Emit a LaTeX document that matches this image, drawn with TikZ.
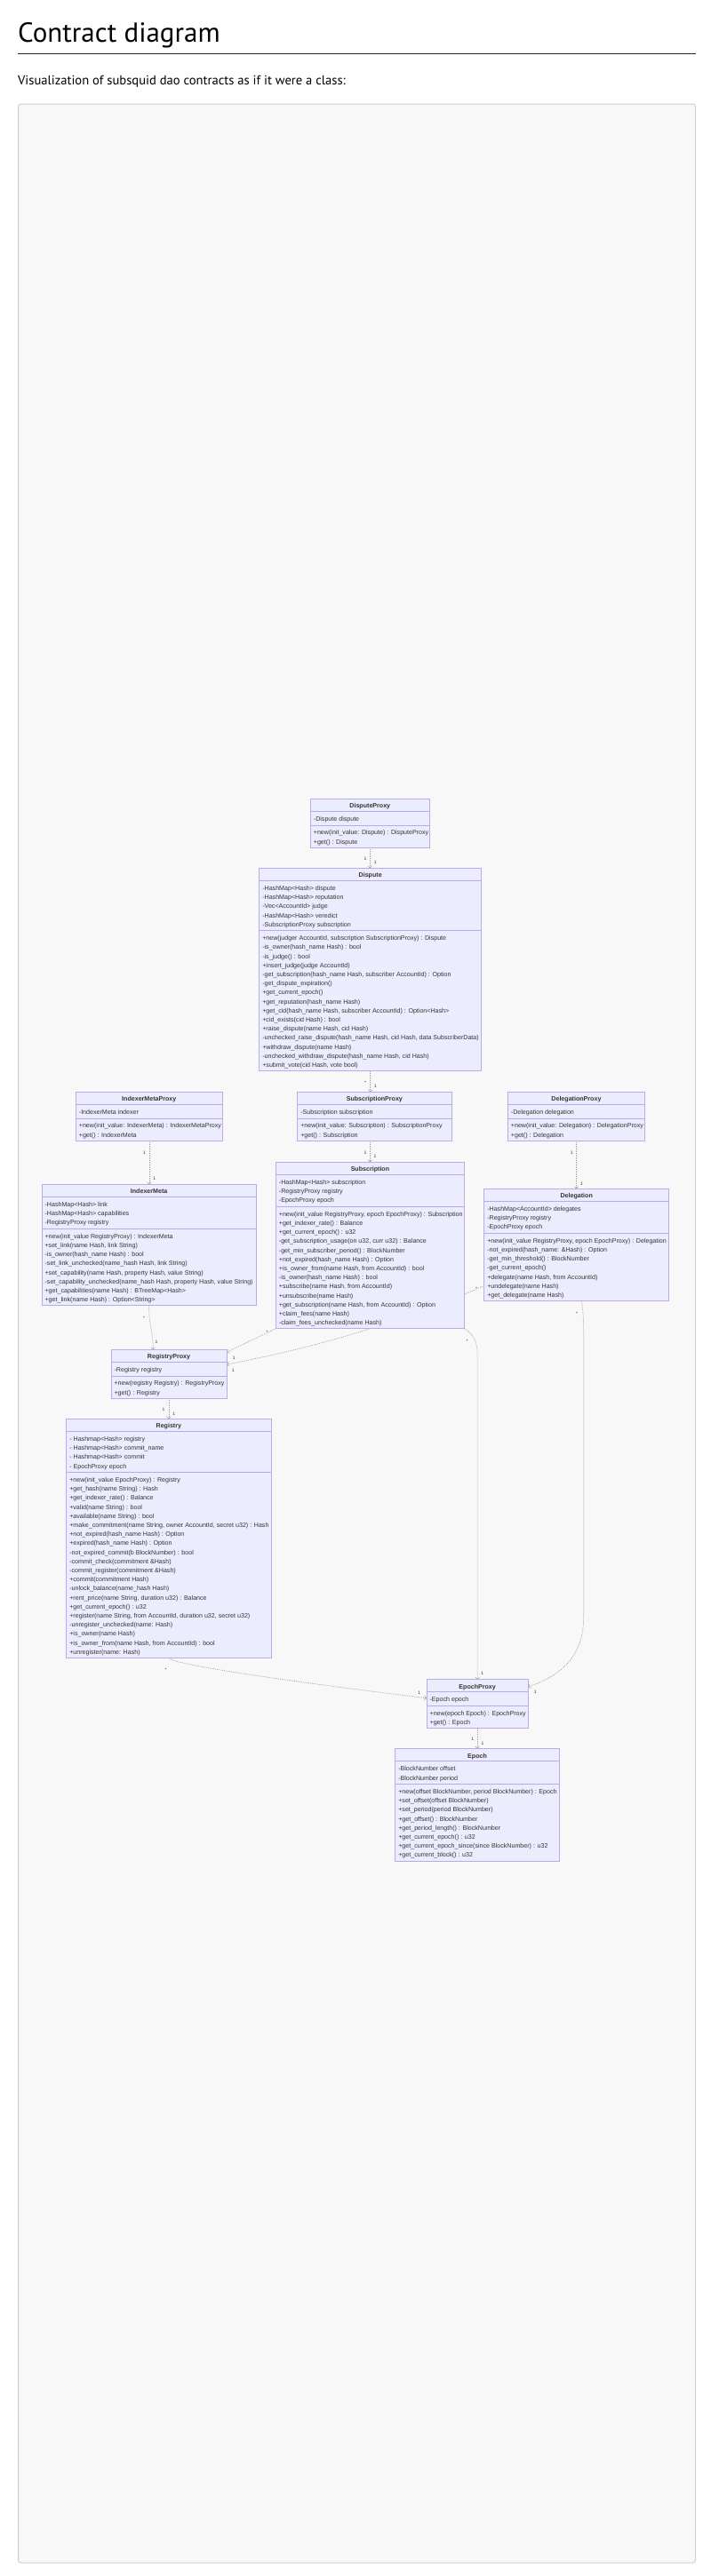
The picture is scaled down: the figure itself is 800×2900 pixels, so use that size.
\documentclass[tikz,border=0pt]{standalone}
\usepackage{fontspec}
\setmainfont{Liberation Sans}
\newfontfamily\titlefont{PT Sans}
\usetikzlibrary{arrows.meta,calc}
\pgfdeclarelayer{bg}\pgfdeclarelayer{edges}\pgfdeclarelayer{boxes}
\pgfsetlayers{bg,edges,boxes,main}
\definecolor{boxfill}{HTML}{ECECFF}
\definecolor{boxline}{HTML}{BBA9EC}
\definecolor{edgecol}{HTML}{9C9C9C}
\definecolor{txt}{HTML}{333333}
\definecolor{panel}{HTML}{F8F8F8}
\definecolor{panelline}{HTML}{CFCFCF}
\tikzset{
 classrect/.style={draw=boxline, fill=boxfill, line width=0.8pt, inner sep=0pt, outer sep=0pt, anchor=north west},
 member/.style={anchor=base west, inner sep=0pt, font=\fontsize{7.1}{8}\selectfont, text=txt},
 classtitle/.style={anchor=base, inner sep=0pt, font=\fontsize{7.1}{8}\selectfont\bfseries, text=txt},
 divider/.style={draw=boxline, line width=0.8pt},
 dep/.style={draw=edgecol, line width=0.6pt, dash pattern=on 1pt off 1pt, -{Straight Barb[length=2.2pt,width=4.6pt,line width=0.5pt]}},
 card/.style={inner sep=0pt, font=\fontsize{5}{5}\selectfont, text=txt},
}
% #1 name, #2 x, #3 y, #4 width, #5 title, #6 attributes, #7 methods
\newcommand\classbox[7]{%
 \gdef\cbnA{0}\gdef\cbnM{0}%
 \node[classtitle] (#1-t) at (#2+#4/2, #3+10.4) {#5};
 \foreach \t [count=\i] in {#6} {\node[member] (#1-a\i) at (#2+3.4, #3+25.2+\i*10.2-10.2) {\t}; \xdef\cbnA{\i}}%
 \pgfmathsetmacro\cbdA{14+\cbnA*10.2+5.4}%
 \foreach \t [count=\i] in {#7} {\node[member] (#1-m\i) at (#2+3.4, #3+\cbdA+10.9+\i*10.2-10.2) {\t}; \xdef\cbnM{\i}}%
 \pgfmathsetmacro\cbH{\cbdA+\cbnM*10.2+4.8}%
 \begin{pgfonlayer}{boxes}
  \node[classrect, minimum width=#4pt, minimum height=\cbH pt] (#1) at (#2,#3) {};
  \draw[divider] ($(#1.north west)+(0,14)$) -- ($(#1.north east)+(0,14)$);
  \draw[divider] ($(#1.north west)+(0,\cbdA)$) -- ($(#1.north east)+(0,\cbdA)$);
 \end{pgfonlayer}
}
\newcommand\cardlabel[3]{\node[card] (#1) at (#2) {#3};}

\begin{document}
\begin{tikzpicture}[x=1pt,y=-1pt]
\useasboundingbox (0,0) rectangle (800,2900);
\begin{pgfonlayer}{bg}
 \fill[white] (0,0) rectangle (800,2900);
 \draw[panelline, fill=panel, line width=1pt, rounded corners=3pt] (20.5,117) rectangle (782.5,2885);
\end{pgfonlayer}
\node[anchor=base west, inner sep=0pt, font=\titlefont\fontsize{31}{31}\selectfont, text=black] (title) at (20,47) {Contract diagram};
\draw[black!85, line width=1pt] (20,60) -- (783,60);
\node[anchor=base west, inner sep=0pt, font=\titlefont\fontsize{14.6}{14.6}\selectfont, text=black] (subtitle) at (20,95) {Visualization of subsquid dao contracts as if it were a class:};

\classbox{disputeproxy}{349.3}{899.3}{134}{DisputeProxy}{-Dispute dispute}{+new(init\_value: Dispute) : DisputeProxy, +get() : Dispute}

\classbox{dispute}{291.7}{977.3}{250}{Dispute}{-HashMap<Hash> dispute, -HashMap<Hash> reputation, -Vec<AccountId> judge, -HashMap<Hash> veredict, -SubscriptionProxy subscription}{
{+new(judger AccountId, subscription SubscriptionProxy) : Dispute},
-is\_owner(hash\_name Hash) : bool,
-is\_judge() : bool,
+insert\_judge(judge AccountId),
{-get\_subscription(hash\_name Hash, subscriber AccountId) : Option},
-get\_dispute\_expiration(),
+get\_current\_epoch(),
+get\_reputation(hash\_name Hash),
{+get\_cid(hash\_name Hash, subscriber AccountId) : Option<Hash>},
+cid\_exists(cid Hash) : bool,
{+raise\_dispute(name Hash, cid Hash)},
{-unchecked\_raise\_dispute(hash\_name Hash, cid Hash, data SubscriberData)},
+withdraw\_dispute(name Hash),
{-unchecked\_withdraw\_dispute(hash\_name Hash, cid Hash)},
{+submit\_vote(cid Hash, vote bool)}}

\classbox{indexermetaproxy}{85.3}{1229.3}{165}{IndexerMetaProxy}{-IndexerMeta indexer}{+new(init\_value: IndexerMeta) : IndexerMetaProxy, +get() : IndexerMeta}

\classbox{subscriptionproxy}{334.7}{1229.3}{173.3}{SubscriptionProxy}{-Subscription subscription}{+new(init\_value: Subscription) : SubscriptionProxy, +get() : Subscription}

\classbox{delegationproxy}{571.3}{1229.3}{154.3}{DelegationProxy}{-Delegation delegation}{+new(init\_value: Delegation) : DelegationProxy, +get() : Delegation}

\classbox{indexermeta}{47}{1333.3}{241.3}{IndexerMeta}{-HashMap<Hash> link, -HashMap<Hash> capabilities, -RegistryProxy registry}{
+new(init\_value RegistryProxy) : IndexerMeta,
{+set\_link(name Hash, link String)},
-is\_owner(hash\_name Hash) : bool,
{-set\_link\_unchecked(name\_hash Hash, link String)},
{+set\_capability(name Hash, property Hash, value String)},
{-set\_capability\_unchecked(name\_hash Hash, property Hash, value String)},
+get\_capabilities(name Hash) : BTreeMap<Hash>,
+get\_link(name Hash) : Option<String>}

\classbox{subscription}{310.3}{1308.3}{212.3}{Subscription}{-HashMap<Hash> subscription, -RegistryProxy registry, -EpochProxy epoch}{
{+new(init\_value RegistryProxy, epoch EpochProxy) : Subscription},
+get\_indexer\_rate() : Balance,
+get\_current\_epoch() : u32,
{-get\_subscription\_usage(on u32, curr u32) : Balance},
-get\_min\_subscriber\_period() : BlockNumber,
+not\_expired(hash\_name Hash) : Option,
{+is\_owner\_from(name Hash, from AccountId) : bool},
-is\_owner(hash\_name Hash) : bool,
{+subscribe(name Hash, from AccountId)},
+unsubscribe(name Hash),
{+get\_subscription(name Hash, from AccountId) : Option},
+claim\_fees(name Hash),
-claim\_fees\_unchecked(name Hash)}

\classbox{delegation}{544.7}{1338.3}{208}{Delegation}{-HashMap<AccountId> delegates, -RegistryProxy registry, -EpochProxy epoch}{
{+new(init\_value RegistryProxy, epoch EpochProxy) : Delegation},
-not\_expired(hash\_name: \&Hash) : Option,
-get\_min\_threshold() : BlockNumber,
-get\_current\_epoch(),
{+delegate(name Hash, from AccountId)},
+undelegate(name Hash),
+get\_delegate(name Hash)}

\classbox{registryproxy}{125}{1519.3}{130}{RegistryProxy}{-Registry registry}{+new(registry Registry) : RegistryProxy, +get() : Registry}

\classbox{registry}{74.7}{1597.3}{230.3}{Registry}{- Hashmap<Hash> registry, - Hashmap<Hash> commit\_name, - Hashmap<Hash> commit, - EpochProxy epoch}{
+new(init\_value EpochProxy) : Registry,
+get\_hash(name String) : Hash,
+get\_indexer\_rate() : Balance,
+valid(name String) : bool,
+available(name String) : bool,
{+make\_commitment(name String, owner AccountId, secret u32) : Hash},
+not\_expired(hash\_name Hash) : Option,
+expired(hash\_name Hash) : Option,
-not\_expired\_commit(b BlockNumber) : bool,
-commit\_check(commitment \&Hash),
-commit\_register(commitment \&Hash),
+commit(commitment Hash),
-unlock\_balance(name\_hash Hash),
{+rent\_price(name String, duration u32) : Balance},
+get\_current\_epoch() : u32,
{+register(name String, from AccountId, duration u32, secret u32)},
-unregister\_unchecked(name: Hash),
+is\_owner(name Hash),
{+is\_owner\_from(name Hash, from AccountId) : bool},
+unregister(name: Hash)}

\classbox{epochproxy}{480}{1890.7}{114.3}{EpochProxy}{-Epoch epoch}{+new(epoch Epoch) : EpochProxy, +get() : Epoch}

\classbox{epoch}{444.7}{1968.7}{184.7}{Epoch}{-BlockNumber offset, -BlockNumber period}{
{+new(offset BlockNumber, period BlockNumber) : Epoch},
+set\_offset(offset BlockNumber),
+set\_period(period BlockNumber),
+get\_offset() : BlockNumber,
+get\_period\_length() : BlockNumber,
+get\_current\_epoch() : u32,
+get\_current\_epoch\_since(since BlockNumber) : u32,
+get\_current\_block() : u32}

% connector end points
\coordinate (rp-top) at ($(registryproxy.north west)!0.364!(registryproxy.north east)$);
\coordinate (rp-e1) at ($(registryproxy.north east)+(0,3)$);
\coordinate (rp-e2) at ($(registryproxy.north east)+(0,16.7)$);
\coordinate (dl-w) at ($(delegation.south west)+(0,-17)$);
\coordinate (dl-s) at ($(delegation.south)+(5.6,0)$);
\coordinate (ep-w) at ($(epochproxy.north west)+(0,21)$);
\coordinate (ep-e) at ($(epochproxy.north east)+(0,8.3)$);
\coordinate (k1) at (epochproxy.north |- 0,1525);
\coordinate (l1) at ($(dl-s |- 0,1500)+(2.4,0)$);
\coordinate (l2) at ($(dl-s |- 0,1820)+(2.4,0)$);

\begin{pgfonlayer}{edges}
\draw[dep] (disputeproxy.south) -- (disputeproxy.south |- dispute.north);
\draw[dep] (dispute.south) -- (dispute.south |- subscriptionproxy.north);
\draw[dep] (subscription.north |- subscriptionproxy.south) -- (subscription.north);
\draw[dep] (indexermetaproxy.south) -- (indexermetaproxy.south |- indexermeta.north);
\draw[dep] (delegationproxy.south) -- (delegationproxy.south |- delegation.north);
\draw[dep] (indexermeta.south) .. controls ($(indexermeta.south)+(0,25)$) and ($(rp-top)+(0,-22)$) .. (rp-top);
\draw[dep] (subscription.south west) -- (rp-e1);
\draw[dep] (dl-w) .. controls (440,1493.7) and (340,1520) .. (rp-e2);
\draw[dep] (registryproxy.south) -- (registryproxy.south |- registry.north);
\draw[dep] (registry.south) .. controls (195,1876) and (400,1902) .. (ep-w);
\draw[dep] (subscription.south east) .. controls ($(subscription.south east)+(10,6)$) and ($(k1)+(0,-15)$) .. (k1) -- (epochproxy.north);
\draw[dep] (dl-s) .. controls ($(dl-s)+(2.2,13)$) and ($(l1)+(0,-10)$) .. (l1) -- (l2) .. controls ($(l2)+(0,50)$) and (625,1888) .. (ep-e);
\draw[dep] (epochproxy.south) -- (epochproxy.south |- epoch.north);
\end{pgfonlayer}

% cardinality labels
\cardlabel{ca1}{411,966.7}{1}
\cardlabel{ca2}{422.3,971}{1}
\cardlabel{cb1}{411,1218.7}{*}
\cardlabel{cb2}{422.3,1223}{1}
\cardlabel{cc1}{411,1297.7}{1}
\cardlabel{cc2}{422,1301.7}{1}
\cardlabel{cd1}{162.3,1297.3}{1}
\cardlabel{cd2}{173.7,1327}{1}
\cardlabel{ce1}{643.3,1297.7}{1}
\cardlabel{ce2}{654.3,1332.7}{1}
\cardlabel{cf1}{162,1483.3}{*}
\cardlabel{cf2}{176,1511}{1}
\cardlabel{cg1}{300.7,1500}{*}
\cardlabel{cg2}{263.3,1528.3}{1}
\cardlabel{ch1}{536,1450.3}{*}
\cardlabel{ch2}{262.3,1542.7}{1}
\cardlabel{ci1}{184,1587}{1}
\cardlabel{ci2}{195.7,1591.7}{1}
\cardlabel{cj1}{186.7,1879.3}{*}
\cardlabel{cj2}{471.7,1905.7}{1}
\cardlabel{ck1}{525.7,1510}{*}
\cardlabel{ck2}{542.7,1884}{1}
\cardlabel{cl1}{649,1478.7}{*}
\cardlabel{cl2}{602.3,1905}{1}
\cardlabel{cm1}{531.7,1957.3}{1}
\cardlabel{cm2}{543,1962.7}{1}
\end{tikzpicture}
\end{document}
